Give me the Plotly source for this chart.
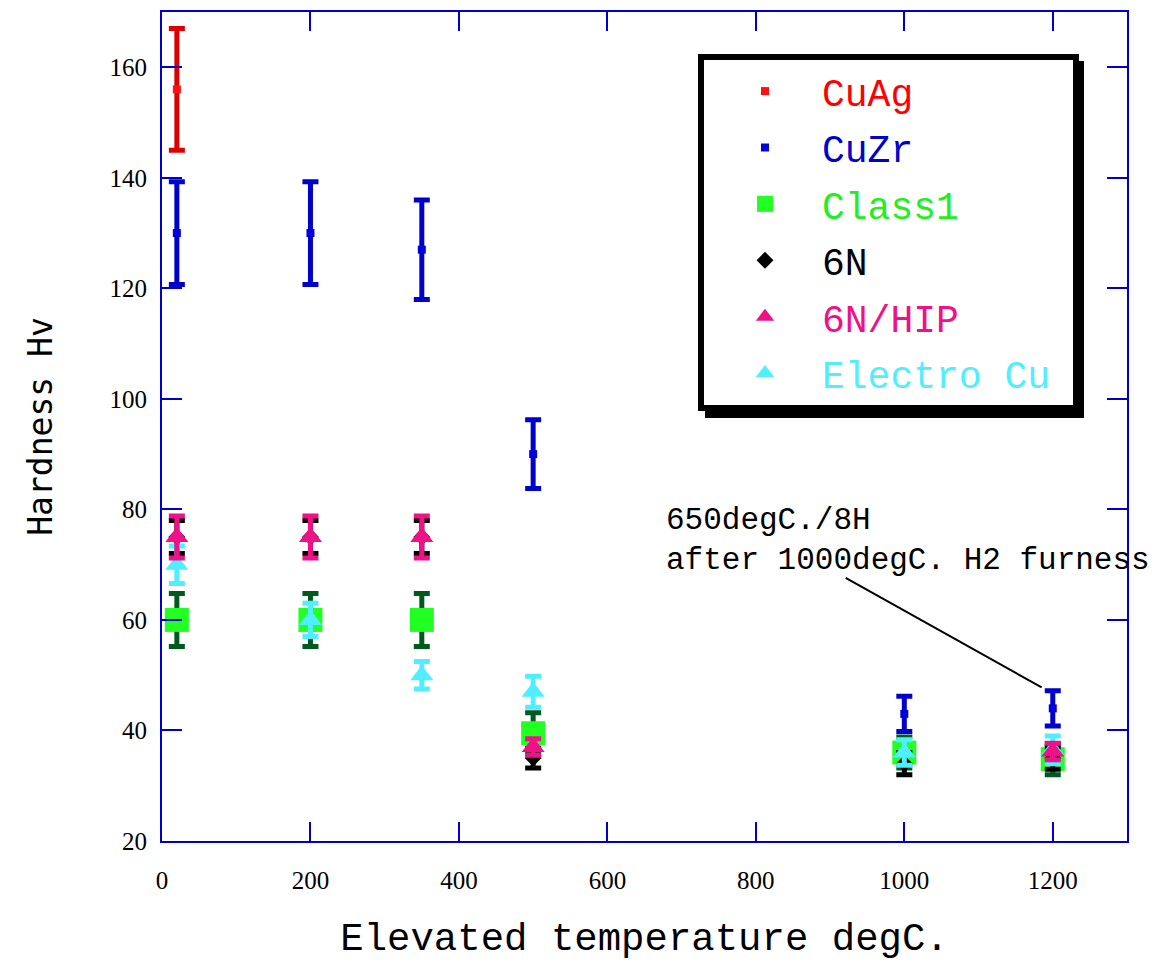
import plotly.graph_objects as go

# ---- data ----
temps = [20, 200, 350, 500, 1000, 1200]

cuag_x = [20]
cuag_y = [156]
cuag_err = [11]

cuzr_y = [130, 130, 127, 90, 43, 44]
cuzr_err = [9.3, 9.3, 9, 6.2, 3.2, 3.2]

class1_y = [60, 60, 60, 39.5, 36, 34.8]
class1_err = [4.8, 4.8, 4.8, 3.7, 2.8, 2.8]

n6_y = [75, 75, 75, 35, 34, 35]
n6_err = [3, 3, 3, 1.8, 2, 2]

hip_y = [75, 75, 75, 37, None, 36.2]
hip_err = [3.8, 3.8, 3.8, 1.5, 0, 1.5]

electro_y = [70, 60, 50, 47, 36, 36.5]
electro_err = [3.4, 3, 2.5, 2.8, 2.3, 2.5]

x_ticks = [0, 200, 400, 600, 800, 1000, 1200]
y_ticks = [20, 40, 60, 80, 100, 120, 140, 160]

MONO = "Liberation Mono"

def series(name, x, y, err, symbol, size, mcolor, ecolor, tcolor, group, rank):
    return go.Scatter(
        x=x, y=y, mode="markers",
        name=f"<span style='color:{tcolor}'>{name}</span>",
        legendgroup=group, legendrank=rank,
        marker=dict(symbol=symbol, size=size, color=mcolor, line=dict(width=0)),
        error_y=dict(type="data", array=err, visible=True, color=ecolor,
                     thickness=5, width=8),
        cliponaxis=False,
    )

fig = go.Figure()
fig.add_trace(series("CuAg", cuag_x, cuag_y, cuag_err, "square", 8,
                     "#ff1010", "#dd0000", "#ff0000", "a", 1))
fig.add_trace(series("CuZr", temps, cuzr_y, cuzr_err, "square", 8,
                     "#0000dd", "#0000cc", "#0000cc", "b", 2))
fig.add_trace(series("Class1", temps, class1_y, class1_err, "square", 24,
                     "#22ff22", "#005a1e", "#22ee22", "c", 3))
fig.add_trace(series("6N", temps, n6_y, n6_err, "diamond", 13,
                     "#000000", "#000000", "#000000", "d", 4))
fig.add_trace(series("Electro Cu", temps, electro_y, electro_err, "triangle-up", 20,
                     "#50eeff", "#50eeff", "#50eeff", "f", 6))
fig.add_trace(series("6N/HIP", temps, hip_y, hip_err, "triangle-up", 20,
                     "#ee1188", "#ee1188", "#ee1188", "e", 5))

axis_color = "#0000cc"

# figure is 8px smaller than the window to account for the page body margin
fig.update_layout(
    width=1155, height=955,
    margin=dict(l=154, r=36, t=2, b=122),
    paper_bgcolor="white", plot_bgcolor="white",
    showlegend=True,
    legend=dict(
        x=(708 - 162) / 965, xanchor="left",
        y=(841 - 58) / 831, yanchor="top",
        bgcolor="rgba(0,0,0,0)", borderwidth=0,
        font=dict(family=MONO, size=38),
        itemwidth=104, tracegroupgap=4,
        traceorder="grouped",
    ),
    xaxis=dict(
        range=[0, 1300], tickvals=x_ticks, ticktext=[str(v) for v in x_ticks],
        showline=True, linecolor=axis_color, linewidth=2, mirror="allticks",
        ticks="inside", ticklen=19, tickwidth=2, tickcolor=axis_color,
        showgrid=False, zeroline=False,
        tickfont=dict(family="Liberation Serif", size=25, color="black"),
        ticklabelstandoff=16,
        title=dict(text="Elevated temperature degC.",
                   font=dict(family=MONO, size=39, color="black"), standoff=30),
    ),
    yaxis=dict(
        range=[20, 170], tickvals=y_ticks, ticktext=[str(v) for v in y_ticks],
        showline=True, linecolor=axis_color, linewidth=2, mirror="allticks",
        ticks="inside", ticklen=20, tickwidth=2, tickcolor=axis_color,
        showgrid=False, zeroline=False,
        tickfont=dict(family="Liberation Serif", size=25, color="black"),
        ticklabelstandoff=8,
        title=dict(text="Hardness Hv",
                   font=dict(family="DejaVu Sans Mono", size=33, color="black"),
                   standoff=47),
    ),
)

# legend frame with drop shadow
fig.add_shape(type="rect", xref="paper", yref="paper",
              x0=(705 - 162) / 965, x1=(1084 - 162) / 965,
              y0=(841 - 417) / 831, y1=(841 - 59) / 831,
              fillcolor="black", line=dict(width=0), layer="above")
fig.add_shape(type="rect", xref="paper", yref="paper",
              x0=(701 - 162) / 965, x1=(1076 - 162) / 965,
              y0=(841 - 407) / 831, y1=(841 - 55) / 831,
              fillcolor="white", line=dict(color="black", width=6), layer="above")

# annotation with pointer line
fig.add_annotation(x=676, y=74.4, xref="x", yref="y",
                   text="650degC./8H<br>after 1000degC. H2 furness",
                   showarrow=False, xanchor="left", yanchor="middle", align="left",
                   font=dict(family=MONO, size=31, color="black"))
fig.add_shape(type="line", xref="x", yref="y",
              x0=921, y0=67.6, x1=1185, y1=47.8,
              line=dict(color="black", width=2), layer="above")

fig.write_html("out.html")
